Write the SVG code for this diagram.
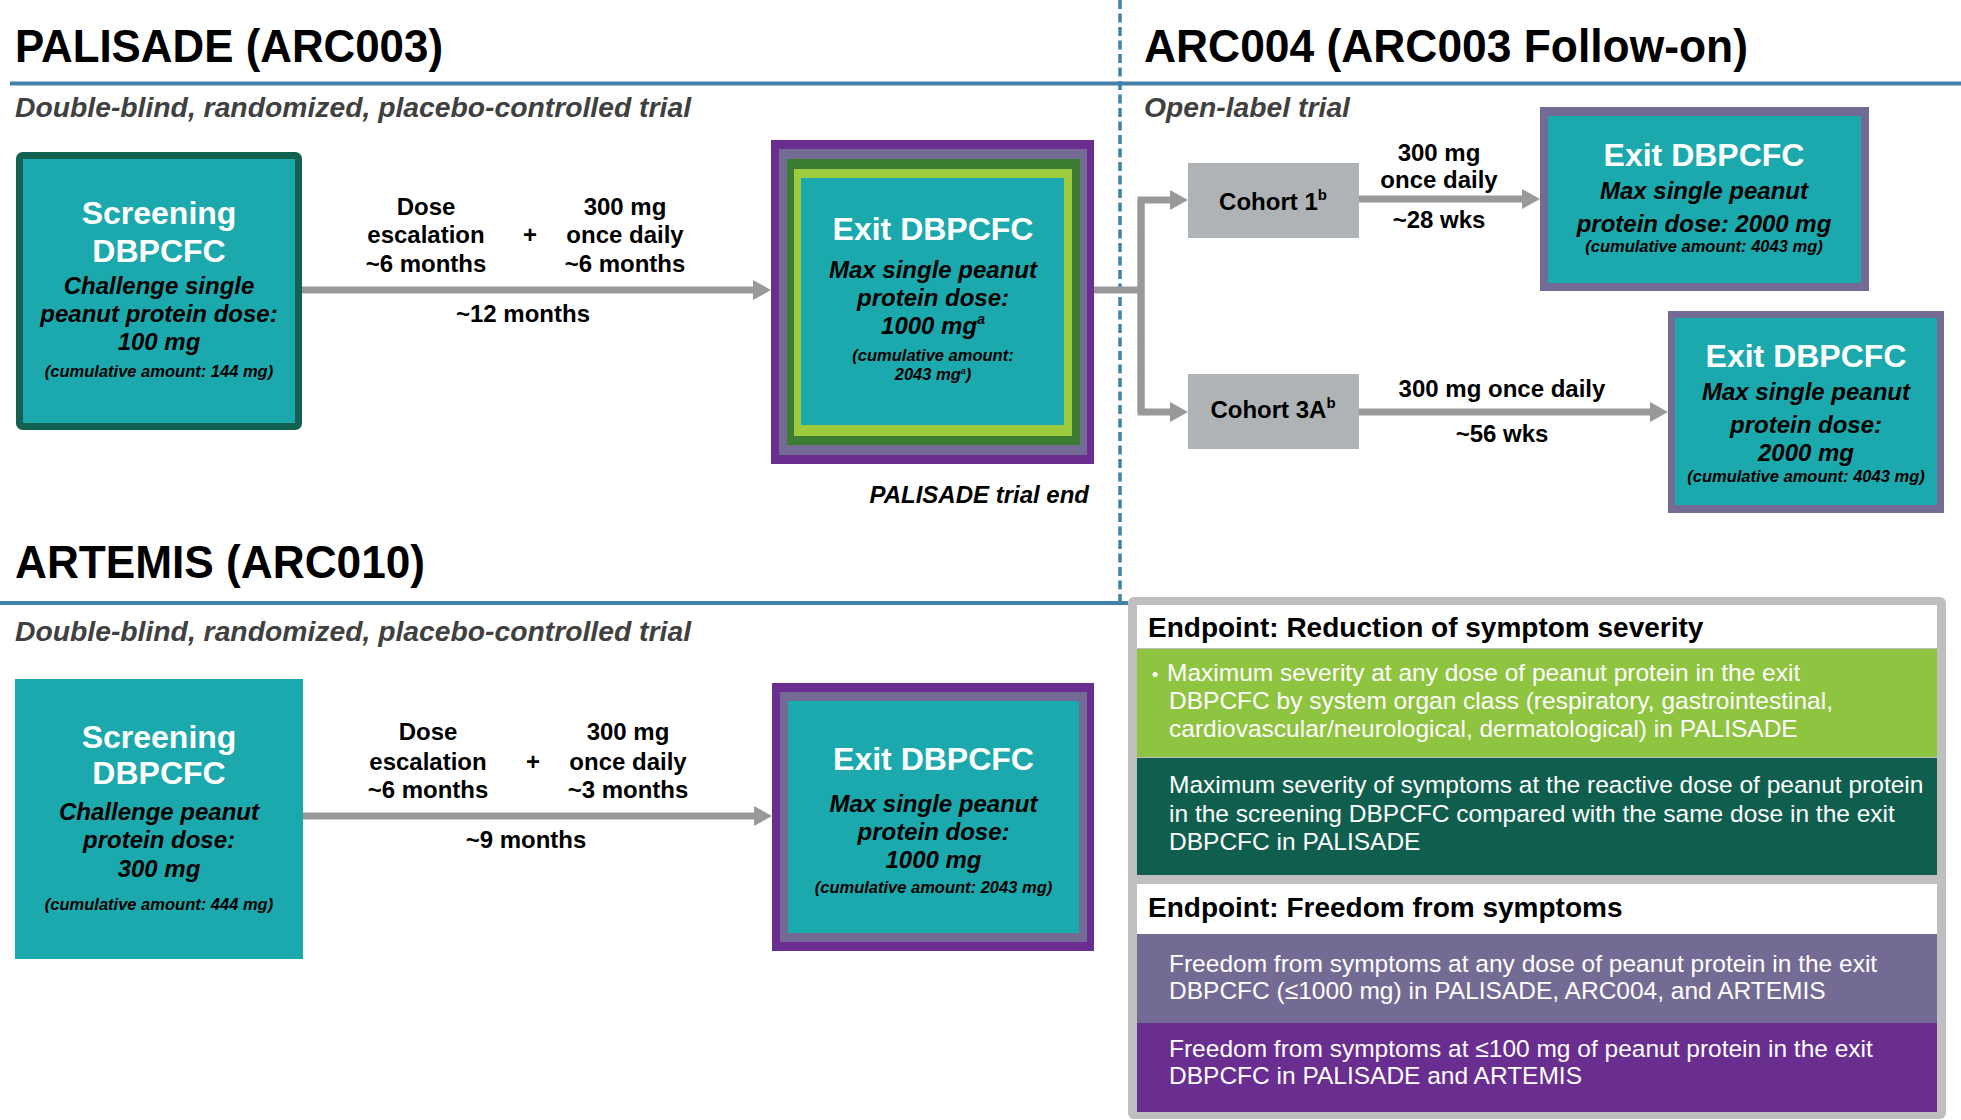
<svg xmlns="http://www.w3.org/2000/svg" width="1961" height="1120" viewBox="0 0 1961 1120">
<defs>
<style>
text { font-family: "Liberation Sans", Arial, sans-serif; }
.title { font-size: 47px; font-weight: bold; fill: #000; }
.sub { font-size: 28.3px; font-weight: bold; font-style: italic; fill: #404040; }
.wh { fill: #fff; font-weight: bold; font-size: 32px; text-anchor: middle; }
.bi { font-weight: bold; font-style: italic; font-size: 24px; text-anchor: middle; fill: #000; }
.cum { font-weight: bold; font-style: italic; font-size: 16.5px; text-anchor: middle; fill: #000; }
.lab { font-weight: bold; font-size: 24px; text-anchor: middle; fill: #000; }
.ep { font-weight: bold; font-size: 28px; fill: #000; }
.eb { fill: #fff; font-size: 24.5px; }
.teal { fill: #1ba9ad; }
.conn { fill: none; stroke: #999999; stroke-width: 7; }
.rule { stroke: #4281a8; stroke-width: 4; }
</style>
<marker id="ah" markerUnits="userSpaceOnUse" markerWidth="18" markerHeight="20" refX="0" refY="10" orient="auto">
<path d="M0,0 L18,10 L0,20 Z" fill="#999999"/>
</marker>
</defs>
<rect width="1961" height="1120" fill="#fff"/>

<!-- section rules -->
<g id="rules">
<line class="rule" x1="10" y1="83.5" x2="1961" y2="83.5"/>
<line class="rule" x1="0" y1="603" x2="1128" y2="603"/>
<line x1="1120" y1="0" x2="1120" y2="603" stroke="#4281a8" stroke-width="3.5" stroke-dasharray="9 4.5"/>
</g>

<!-- headings -->
<g id="headings">
<text class="title" x="15" y="62" textLength="428" lengthAdjust="spacingAndGlyphs">PALISADE (ARC003)</text>
<text class="title" x="1144" y="62" textLength="604" lengthAdjust="spacingAndGlyphs">ARC004 (ARC003 Follow-on)</text>
<text class="title" x="15" y="578" textLength="410" lengthAdjust="spacingAndGlyphs">ARTEMIS (ARC010)</text>
<text class="sub" x="15" y="117">Double-blind, randomized, placebo-controlled trial</text>
<text class="sub" x="1144" y="117">Open-label trial</text>
<text class="sub" x="15" y="641">Double-blind, randomized, placebo-controlled trial</text>
</g>

<!-- connectors -->
<g id="connectors">
<line class="conn" x1="302" y1="290" x2="753" y2="290" marker-end="url(#ah)"/>
<line class="conn" x1="303" y1="816" x2="754" y2="816" marker-end="url(#ah)"/>
<path class="conn" d="M1094,290 H1141"/>
<path class="conn" d="M1141,412 V200 H1170" marker-end="url(#ah)"/>
<path class="conn" d="M1141,200 V412 H1170" marker-end="url(#ah)"/>
<line class="conn" x1="1359" y1="199" x2="1522" y2="199" marker-end="url(#ah)"/>
<line class="conn" x1="1359" y1="412" x2="1650" y2="412" marker-end="url(#ah)"/>
</g>

<!-- connector labels -->
<g id="labels1">
<text class="lab" x="426" y="215">Dose</text>
<text class="lab" x="426" y="243">escalation</text>
<text class="lab" x="426" y="272">~6 months</text>
<text class="lab" x="530" y="243">+</text>
<text class="lab" x="625" y="215">300 mg</text>
<text class="lab" x="625" y="243">once daily</text>
<text class="lab" x="625" y="272">~6 months</text>
<text class="lab" x="523" y="322">~12 months</text>
</g>
<g id="labels2">
<text class="lab" x="428" y="740">Dose</text>
<text class="lab" x="428" y="770">escalation</text>
<text class="lab" x="428" y="798">~6 months</text>
<text class="lab" x="533" y="770">+</text>
<text class="lab" x="628" y="740">300 mg</text>
<text class="lab" x="628" y="770">once daily</text>
<text class="lab" x="628" y="798">~3 months</text>
<text class="lab" x="526" y="848">~9 months</text>
</g>
<g id="labels3">
<text class="lab" x="1439" y="161">300 mg</text>
<text class="lab" x="1439" y="188">once daily</text>
<text class="lab" x="1439" y="228">~28 wks</text>
<text class="lab" x="1502" y="397">300 mg once daily</text>
<text class="lab" x="1502" y="442">~56 wks</text>
</g>

<!-- PALISADE screening -->
<g id="palisade-screening">
<rect x="19.5" y="155.5" width="279" height="271" rx="3" class="teal" stroke="#136150" stroke-width="7"/>
<text class="wh" x="159" y="224">Screening</text>
<text class="wh" x="159" y="262">DBPCFC</text>
<text class="bi" x="159" y="294">Challenge single</text>
<text class="bi" x="159" y="322">peanut protein dose:</text>
<text class="bi" x="159" y="350">100 mg</text>
<text class="cum" x="159" y="377">(cumulative amount: 144 mg)</text>
</g>

<!-- PALISADE exit -->
<g id="palisade-exit">
<rect x="771" y="140" width="323" height="324" fill="#692e8f"/>
<rect x="779" y="149" width="308" height="306" fill="#746b94"/>
<rect x="787" y="159" width="293" height="286" fill="#3a7c31"/>
<rect x="794" y="169" width="278" height="267" fill="#9dcb3b"/>
<rect x="801" y="178" width="263" height="247" class="teal"/>
<text class="wh" x="933" y="240">Exit DBPCFC</text>
<text class="bi" x="933" y="278">Max single peanut</text>
<text class="bi" x="933" y="306">protein dose:</text>
<text class="bi" x="933" y="334">1000 mg<tspan font-size="14" dy="-10">a</tspan></text>
<text class="cum" x="933" y="361">(cumulative amount:</text>
<text class="cum" x="933" y="380">2043 mg<tspan font-size="9" dy="-6">a</tspan><tspan dy="6">)</tspan></text>
<text class="bi" x="1089" y="503" style="text-anchor:end">PALISADE trial end</text>
</g>

<!-- ARC004 cohorts -->
<g id="cohort-1">
<rect x="1188" y="163" width="171" height="75" fill="#b0b3b6"/>
<text class="lab" x="1273" y="210">Cohort 1<tspan font-size="15" dy="-10">b</tspan></text>
</g>
<g id="cohort-3a">
<rect x="1188" y="374" width="171" height="75" fill="#b0b3b6"/>
<text class="lab" x="1273" y="418">Cohort 3A<tspan font-size="15" dy="-10">b</tspan></text>
</g>

<!-- ARC004 exits -->
<g id="arc004-exit-1">
<rect x="1540" y="107" width="329" height="184" fill="#746b94"/>
<rect x="1548" y="116" width="313" height="167" class="teal"/>
<text class="wh" x="1704" y="166">Exit DBPCFC</text>
<text class="bi" x="1704" y="199">Max single peanut</text>
<text class="bi" x="1704" y="232">protein dose: 2000 mg</text>
<text class="cum" x="1704" y="252">(cumulative amount: 4043 mg)</text>
</g>
<g id="arc004-exit-3a">
<rect x="1668" y="311" width="276" height="202" fill="#746b94"/>
<rect x="1675" y="318" width="262" height="187" class="teal"/>
<text class="wh" x="1806" y="367">Exit DBPCFC</text>
<text class="bi" x="1806" y="400">Max single peanut</text>
<text class="bi" x="1806" y="433">protein dose:</text>
<text class="bi" x="1806" y="461">2000 mg</text>
<text class="cum" x="1806" y="482">(cumulative amount: 4043 mg)</text>
</g>

<!-- ARTEMIS screening -->
<g id="artemis-screening">
<rect x="15" y="679" width="288" height="280" class="teal"/>
<text class="wh" x="159" y="748">Screening</text>
<text class="wh" x="159" y="784">DBPCFC</text>
<text class="bi" x="159" y="820">Challenge peanut</text>
<text class="bi" x="159" y="848">protein dose:</text>
<text class="bi" x="159" y="877">300 mg</text>
<text class="cum" x="159" y="910">(cumulative amount: 444 mg)</text>
</g>

<!-- ARTEMIS exit -->
<g id="artemis-exit">
<rect x="772" y="683" width="322" height="268" fill="#692e8f"/>
<rect x="780" y="692" width="307" height="250" fill="#746b94"/>
<rect x="788" y="701" width="291" height="232" class="teal"/>
<text class="wh" x="933.5" y="770">Exit DBPCFC</text>
<text class="bi" x="933.5" y="812">Max single peanut</text>
<text class="bi" x="933.5" y="840">protein dose:</text>
<text class="bi" x="933.5" y="868">1000 mg</text>
<text class="cum" x="933.5" y="893">(cumulative amount: 2043 mg)</text>
</g>

<!-- Endpoints panel -->
<g id="endpoints">
<rect x="1128" y="597" width="818" height="522" rx="6" fill="#bfbfbf"/>
<rect x="1137" y="605" width="800" height="43" fill="#fff"/>
<rect x="1137" y="649" width="800" height="108" fill="#8fc440"/>
<rect x="1137" y="758" width="800" height="117" fill="#105f4e"/>
<rect x="1137" y="884" width="800" height="50" fill="#fff"/>
<rect x="1137" y="934" width="800" height="89" fill="#746b94"/>
<rect x="1137" y="1023" width="800" height="89" fill="#692e8f"/>
<text class="ep" x="1148" y="637">Endpoint: Reduction of symptom severity</text>
<text class="eb" x="1152" y="681" style="font-size:18px">•</text>
<text class="eb" x="1167" y="681">Maximum severity at any dose of peanut protein in the exit</text>
<text class="eb" x="1169" y="709">DBPCFC by system organ class (respiratory, gastrointestinal,</text>
<text class="eb" x="1169" y="737">cardiovascular/neurological, dermatological) in PALISADE</text>
<text class="eb" x="1169" y="793">Maximum severity of symptoms at the reactive dose of peanut protein</text>
<text class="eb" x="1169" y="822">in the screening DBPCFC compared with the same dose in the exit</text>
<text class="eb" x="1169" y="850">DBPCFC in PALISADE</text>
<text class="ep" x="1148" y="917">Endpoint: Freedom from symptoms</text>
<text class="eb" x="1169" y="972">Freedom from symptoms at any dose of peanut protein in the exit</text>
<text class="eb" x="1169" y="999">DBPCFC (≤1000 mg) in PALISADE, ARC004, and ARTEMIS</text>
<text class="eb" x="1169" y="1057">Freedom from symptoms at ≤100 mg of peanut protein in the exit</text>
<text class="eb" x="1169" y="1084">DBPCFC in PALISADE and ARTEMIS</text>
</g>
</svg>
